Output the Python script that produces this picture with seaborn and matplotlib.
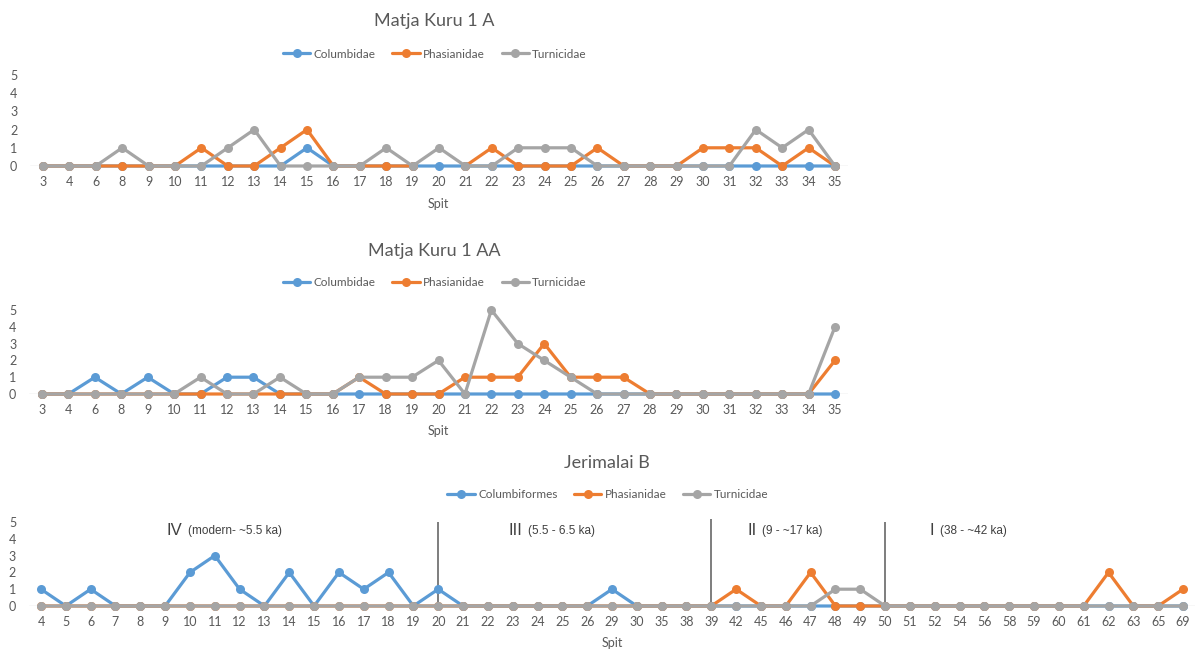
import numpy as np
import pandas as pd
import matplotlib
matplotlib.use("Agg")
import matplotlib.pyplot as plt
from matplotlib.lines import Line2D
import seaborn as sns

# ---------------------------------------------------------------- data
nan = np.nan

mk_spits = ["3", "4", "6", "8", "9", "10", "11", "12", "13", "14", "15", "16",
            "17", "18", "19", "20", "21", "22", "23", "24", "25", "26", "27",
            "28", "29", "30", "31", "32", "33", "34", "35"]

mk1a_columbidae = [0, 0, 0, 0, 0, 0, 0, 0, 0, 0, 1, 0, 0, 0, 0, 0,
                   0, 0, 0, 0, 0, 0, 0, 0, 0, 0, 0, 0, 0, 0, 0]
mk1a_phasianidae = [0, 0, 0, 0, 0, 0, 1, 0, 0, 1, 2, 0, 0, 0, 0, nan,
                    0, 1, 0, 0, 0, 1, 0, 0, 0, 1, 1, 1, 0, 1, 0]
mk1a_turnicidae = [0, 0, 0, 1, 0, 0, 0, 1, 2, 0, 0, 0, 0, 1, 0, 1,
                   0, 0, 1, 1, 1, 0, 0, 0, 0, 0, 0, 2, 1, 2, 0]

mk1aa_columbidae = [0, 0, 1, 0, 1, 0, 0, 1, 1, 0, 0, 0, 0, 0, 0, 0,
                    0, 0, 0, 0, 0, 0, 0, 0, 0, 0, 0, 0, 0, 0, 0]
mk1aa_phasianidae = [0, 0, 0, 0, 0, 0, 0, 0, 0, 0, 0, 0, 1, 0, 0, 0,
                     1, 1, 1, 3, 1, 1, 1, 0, 0, 0, 0, 0, 0, 0, 2]
mk1aa_turnicidae = [0, 0, 0, 0, 0, 0, 1, 0, 0, 1, 0, 0, 1, 1, 1, 2,
                    0, 5, 3, 2, 1, 0, 0, 0, 0, 0, 0, 0, 0, 0, 4]

jb_spits = ["4", "5", "6", "7", "8", "9", "10", "11", "12", "13", "14", "15",
            "16", "17", "18", "19", "20", "21", "22", "23", "24", "25", "26",
            "29", "30", "35", "38", "39", "42", "45", "46", "47", "48", "49",
            "50", "51", "52", "54", "56", "58", "59", "60", "61", "62", "63",
            "65", "69"]
jb_columbiformes = [1, 0, 1, 0, 0, 0, 2, 3, 1, 0, 2, 0, 2, 1, 2, 0, 1, 0, 0,
                    0, 0, 0, 0, 1, 0, 0, 0, 0, 0, 0, 0, 0, 0, 0, 0, 0, 0, 0,
                    0, 0, 0, 0, 0, 0, 0, 0, 0]
jb_phasianidae = [0, 0, 0, 0, 0, 0, 0, 0, 0, 0, 0, 0, 0, 0, 0, 0, 0, 0, 0,
                  0, 0, 0, 0, 0, 0, 0, 0, 0, 1, 0, 0, 2, 0, 0, 0, 0, 0, 0,
                  0, 0, 0, 0, 0, 2, 0, 0, 1]
jb_turnicidae = [0, 0, 0, 0, 0, 0, 0, 0, 0, 0, 0, 0, 0, 0, 0, 0, 0, 0, 0,
                 0, 0, 0, 0, 0, 0, 0, 0, 0, 0, 0, 0, 0, 1, 1, 0, 0, 0, 0,
                 0, 0, 0, 0, 0, 0, 0, 0, 0]

# stratigraphic phases of Jerimalai B and the spits bounding them
jb_boundaries = ["20", "39", "50"]
jb_phase_numerals = ["IV", "III", "II", "I"]
jb_phase_ages = ["(modern- ~5.5 ka)", "(5.5 - 6.5 ka)", "(9 - ~17 ka)",
                 "(38 - ~42 ka)"]

# ---------------------------------------------------------------- style
W, H = 1195, 650
BLUE, ORANGE, GREY = "#5B9BD5", "#ED7D31", "#A5A5A5"
TEXT = "#595959"

sns.set_theme(style="white")
plt.rcParams["font.family"] = ["Lato", "DejaVu Sans"]

fig = plt.figure(figsize=(W / 100, H / 100), dpi=100)
fig.patch.set_facecolor("white")


def fx(x):
    return x / W


def fy(y):
    return 1 - y / H


def add_axes(left, right, top, bottom):
    return fig.add_axes([fx(left), fy(bottom), (right - left) / W,
                         (bottom - top) / H])


def draw_panel(ax, spits, series, names, colors):
    rows = []
    for name, vals in zip(names, series):
        seg = 0
        for i, v in enumerate(vals):
            if np.isnan(v):
                seg += 1
                continue
            rows.append({"pos": i, "count": v, "taxon": name, "seg": seg})
    df = pd.DataFrame(rows)
    sns.lineplot(data=df, x="pos", y="count", hue="taxon", hue_order=names,
                 palette=dict(zip(names, colors)), units="seg",
                 estimator=None, sort=False, marker="o", markersize=6.5,
                 markeredgewidth=0, linewidth=2.3, legend=False,
                 clip_on=False, ax=ax, zorder=3)
    n = len(spits)
    ax.axhline(0, color="#D9D9D9", lw=1, zorder=1)
    ax.set_xlim(-0.5, n - 0.5)
    ax.set_ylim(0, 5)
    ax.set_xticks(range(n))
    ax.set_xticklabels(spits)
    ax.set_yticks(range(6))
    ax.set_ylabel("")
    ax.tick_params(axis="both", length=0, colors=TEXT, labelsize=9)
    ax.tick_params(axis="x", pad=7)
    ax.tick_params(axis="y", pad=9)
    for s in ax.spines.values():
        s.set_visible(False)
    ax.set_facecolor("none")


def legend(names, colors, cx, cy):
    handles = [Line2D([], [], color=c, lw=2.3, marker="o", ms=6.5, mew=0)
               for c in colors]
    fig.legend(handles, names, loc="center", bbox_to_anchor=(fx(cx), fy(cy)),
               ncol=3, frameon=False, handlelength=2.3, handletextpad=0.3,
               columnspacing=1.4, fontsize=8.5, labelcolor=TEXT)


def titles(ax, title, tx, ty, sx, sy):
    fig.text(fx(tx), fy(ty), title, ha="center", va="center", fontsize=13,
             color=TEXT)
    ax.set_xlabel("Spit", fontsize=9, color=TEXT)
    ax.xaxis.set_label_coords(fx(sx), fy(sy), transform=fig.transFigure)
    ax.xaxis.label.set_va("center")


colors = [BLUE, ORANGE, GREY]

# Matja Kuru 1 A
ax1 = add_axes(29.8, 848.2, 75, 166)
names1 = ["Columbidae", "Phasianidae", "Turnicidae"]
draw_panel(ax1, mk_spits, [np.array(mk1a_columbidae, float),
                           np.array(mk1a_phasianidae, float),
                           np.array(mk1a_turnicidae, float)], names1, colors)
titles(ax1, "Matja Kuru 1 A", 434, 21, 438, 204)
legend(names1, colors, 435, 54)

# Matja Kuru 1 AA
ax2 = add_axes(28.8, 848.2, 310, 394)
draw_panel(ax2, mk_spits, [np.array(mk1aa_columbidae, float),
                           np.array(mk1aa_phasianidae, float),
                           np.array(mk1aa_turnicidae, float)], names1, colors)
titles(ax2, "Matja Kuru 1 AA", 434, 251, 438, 431)
legend(names1, colors, 435, 283)

# Jerimalai B
ax3 = add_axes(28.6, 1195.4, 522, 606)
names3 = ["Columbiformes", "Phasianidae", "Turnicidae"]
draw_panel(ax3, jb_spits, [np.array(jb_columbiformes, float),
                           np.array(jb_phasianidae, float),
                           np.array(jb_turnicidae, float)], names3, colors)
titles(ax3, "Jerimalai B", 607, 463, 612, 643)
legend(names3, colors, 608, 495)

# phase boundaries
bpos = [jb_spits.index(b) for b in jb_boundaries]
ax3.vlines(bpos, 0, [5.0, 5.2, 5.0], color="#5A5A5A", lw=1.1, zorder=2,
           clip_on=False)

# phase labels: large numeral followed by smaller age range
label_x = [5.07, 18.85, 28.45, 35.8]
for x, num, age in zip(label_x, jb_phase_numerals, jb_phase_ages):
    t = ax3.text(x, 4.52, num, ha="left", va="center", fontsize=12,
                 color="#404040", family=["Liberation Sans", "DejaVu Sans"])
    ax3.annotate(age, xy=(1, 0.45), xycoords=t, xytext=(4, 0),
                 textcoords="offset points", ha="left", va="center",
                 fontsize=8.5, color="#404040",
                 family=["Liberation Sans", "DejaVu Sans"])

fig.savefig("out.png", dpi=100, facecolor="white")
